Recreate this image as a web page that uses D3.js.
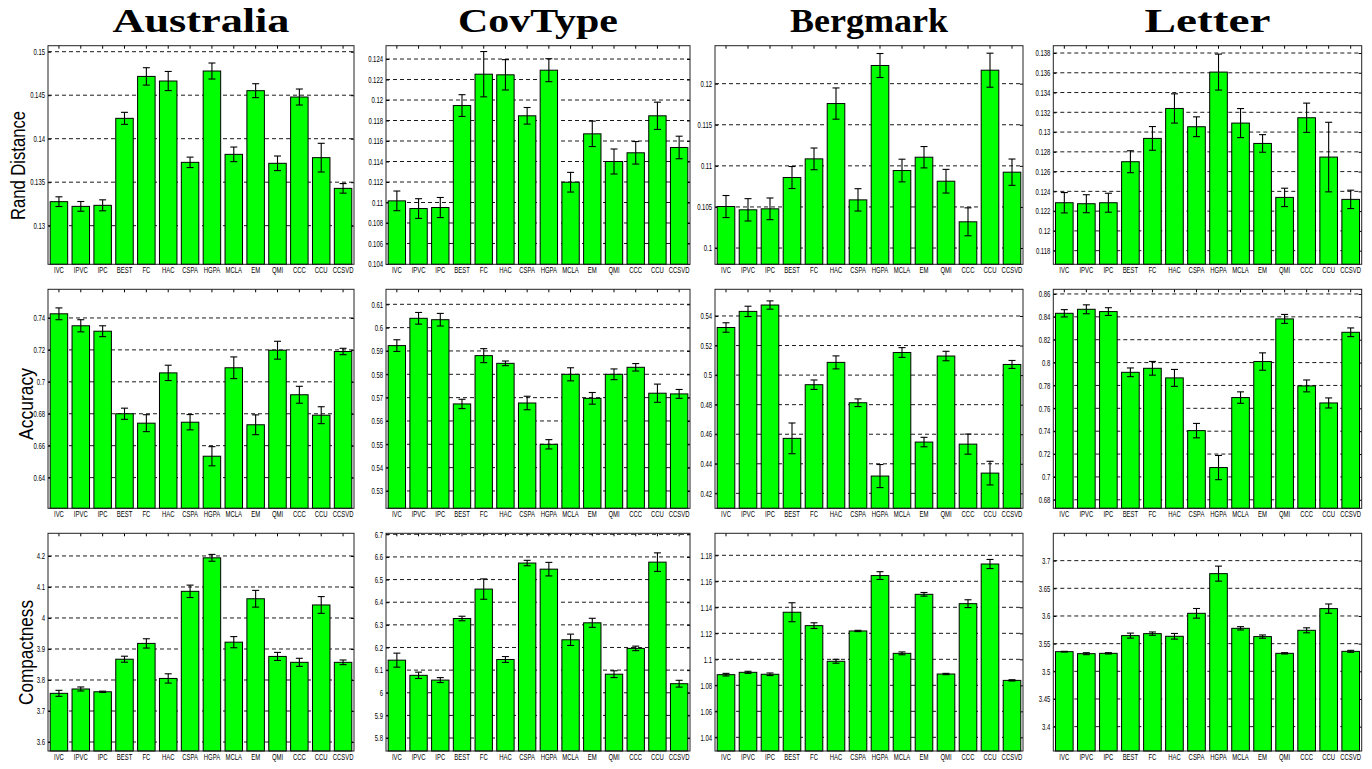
<!DOCTYPE html>
<html>
<head>
<meta charset="utf-8">
<script src="https://cdn.jsdelivr.net/npm/d3@7"></script>
<style>
  body { margin: 0; background: #fff; }
  svg text { font-family: "Liberation Sans", Arial, sans-serif; }
</style>
</head>
<body>
<svg id="chart" width="1372" height="769"></svg>
<script>
// Clustering methods (x categories), datasets (columns) and measures (rows)
const methods = ["IVC","IPVC","IPC","BEST","FC","HAC","CSPA","HGPA","MCLA","EM","QMI","CCC","CCU","CCSVD"];
const datasets = ["Australia","CovType","Bergmark","Letter"];
const measures = ["Rand Distance","Accuracy","Compactness"];

// Rand distance: means and error-bar half lengths
const randAustralia    = [0.13276,0.13222,0.13234,0.14234,0.14716,0.14663,0.13728,0.14778,0.13820,0.14552,0.13717,0.14479,0.13782,0.13429];
const randAustraliaErr = [0.00056,0.00056,0.00063,0.00069,0.00100,0.00110,0.00060,0.00092,0.00084,0.00080,0.00084,0.00092,0.00165,0.00055];
const randCovType      = [0.11016,0.10941,0.10951,0.11946,0.12252,0.12246,0.11846,0.12291,0.11198,0.11670,0.11400,0.11485,0.11846,0.11537];
const randCovTypeErr   = [0.00096,0.00096,0.00098,0.00106,0.00221,0.00148,0.00081,0.00112,0.00096,0.00124,0.00122,0.00110,0.00133,0.00110];
const randBergmark     = [0.10505,0.10465,0.10477,0.10858,0.11085,0.11758,0.10586,0.12221,0.10943,0.11105,0.10813,0.10319,0.12164,0.10923];
const randBergmarkErr  = [0.00134,0.00136,0.00132,0.00134,0.00132,0.00190,0.00136,0.00146,0.00138,0.00130,0.00144,0.00170,0.00207,0.00160];
const randLetter       = [0.12285,0.12275,0.12285,0.12700,0.12936,0.13239,0.13054,0.13607,0.13091,0.12885,0.12339,0.13145,0.12747,0.12319];
const randLetterErr    = [0.00103,0.00091,0.00096,0.00111,0.00120,0.00148,0.00100,0.00182,0.00147,0.00089,0.00093,0.00148,0.00352,0.00093];

// Accuracy
const accAustralia     = [0.7426,0.7351,0.7317,0.6800,0.6741,0.7056,0.6747,0.6534,0.7088,0.6731,0.7198,0.6919,0.6791,0.7190];
const accAustraliaErr  = [0.0037,0.0038,0.0034,0.0035,0.0053,0.0048,0.0048,0.0060,0.0068,0.0062,0.0056,0.0053,0.0053,0.0020];
const accCovType       = [0.5923,0.6040,0.6034,0.5673,0.5880,0.5847,0.5677,0.5500,0.5800,0.5697,0.5800,0.5830,0.5719,0.5716];
const accCovTypeErr    = [0.0025,0.0025,0.0027,0.0020,0.0030,0.0010,0.0029,0.0020,0.0028,0.0025,0.0023,0.0016,0.0039,0.0019];
const accBergmark      = [0.5322,0.5431,0.5474,0.4572,0.4935,0.5086,0.4813,0.4317,0.5153,0.4547,0.5129,0.4533,0.4337,0.5072];
const accBergmarkErr   = [0.0032,0.0035,0.0028,0.0104,0.0032,0.0044,0.0026,0.0078,0.0033,0.0032,0.0032,0.0068,0.0080,0.0027];
const accLetter        = [0.8431,0.8466,0.8446,0.7915,0.7950,0.7866,0.7405,0.7082,0.7694,0.8009,0.8382,0.7796,0.7647,0.8265];
const accLetterErr     = [0.0032,0.0039,0.0034,0.0038,0.0060,0.0074,0.0063,0.0106,0.0050,0.0076,0.0039,0.0052,0.0044,0.0038];

// Compactness
const compAustralia    = [3.757,3.771,3.762,3.867,3.918,3.805,4.086,4.194,3.922,4.062,3.876,3.857,4.042,3.857];
const compAustraliaErr = [0.0097,0.0065,0.002,0.0097,0.015,0.015,0.020,0.011,0.018,0.027,0.013,0.013,0.027,0.0075];
const compCovType      = [6.144,6.077,6.056,6.328,6.458,6.147,6.573,6.546,6.234,6.309,6.082,6.196,6.577,6.040];
const compCovTypeErr   = [0.031,0.014,0.011,0.010,0.045,0.013,0.012,0.030,0.025,0.020,0.015,0.010,0.041,0.015];
const compBergmark     = [1.0882,1.0900,1.0885,1.1362,1.1259,1.0985,1.1218,1.1644,1.1046,1.1500,1.0887,1.1428,1.1733,1.0838];
const compBergmarkErr  = [0.0010,0.0008,0.0010,0.0073,0.0022,0.0015,0.0005,0.0030,0.0011,0.0014,0.0005,0.0030,0.0035,0.0005];
const compLetter       = [3.5355,3.5319,3.5325,3.5645,3.5681,3.5633,3.6048,3.6765,3.5777,3.5627,3.5325,3.5741,3.6133,3.5361];
const compLetterErr    = [0.0006,0.0018,0.0012,0.0045,0.0030,0.0051,0.0087,0.0136,0.0030,0.0030,0.0012,0.0045,0.0084,0.0018];

// Y-axis limits of every panel (row-major: measure, dataset)
const yLimits = [
  [0.12556, 0.15069], [0.10397, 0.12530], [0.09802, 0.12462], [0.11662, 0.13874],
  [0.62078, 0.75795], [0.52257, 0.61643], [0.40989, 0.55804], [0.67257, 0.86408],
  [3.5710, 4.2731],   [5.7427, 6.7044],   [1.02949, 1.19692], [3.3560, 3.7494]
];

// Y tick values of every panel
const yTicks = [
  [0.13,0.135,0.14,0.145,0.15],
  [0.104,0.106,0.108,0.11,0.112,0.114,0.116,0.118,0.12,0.122,0.124],
  [0.1,0.105,0.11,0.115,0.12],
  [0.118,0.12,0.122,0.124,0.126,0.128,0.13,0.132,0.134,0.136,0.138],
  [0.64,0.66,0.68,0.7,0.72,0.74],
  [0.53,0.54,0.55,0.56,0.57,0.58,0.59,0.6,0.61],
  [0.42,0.44,0.46,0.48,0.5,0.52,0.54],
  [0.68,0.7,0.72,0.74,0.76,0.78,0.8,0.82,0.84,0.86],
  [3.6,3.7,3.8,3.9,4,4.1,4.2],
  [5.8,5.9,6,6.1,6.2,6.3,6.4,6.5,6.6,6.7],
  [1.04,1.06,1.08,1.1,1.12,1.14,1.16,1.18],
  [3.4,3.45,3.5,3.55,3.6,3.65,3.7]
];

const means = [
  [randAustralia, randCovType, randBergmark, randLetter],
  [accAustralia, accCovType, accBergmark, accLetter],
  [compAustralia, compCovType, compBergmark, compLetter]
];
const errs = [
  [randAustraliaErr, randCovTypeErr, randBergmarkErr, randLetterErr],
  [accAustraliaErr, accCovTypeErr, accBergmarkErr, accLetterErr],
  [compAustraliaErr, compCovTypeErr, compBergmarkErr, compLetterErr]
];

// Layout of the 4 x 3 grid of axes
const colLeft  = [48, 386, 715, 1053.3];
const colRight = [354, 690, 1023, 1361.7];
const rowTop    = [45.7, 289.3, 533.3];
const rowBottom = [264.3, 508.3, 751];
const titleWidth = [177, 160, 158, 126];
const ylabelX = [25, 33, 33];
const ylabelY = [165.5, 404, 652.5];
const ylabelLen = [109, 72, 105];

const svg = d3.select("#chart");
const fmt = v => String(+v.toFixed(4));
const squeeze = 0.7;

// Dataset titles
datasets.forEach((name, c) => {
  svg.append("text")
    .attr("x", (colLeft[c] + colRight[c]) / 2)
    .attr("y", 32)
    .attr("text-anchor", "middle")
    .style("font-family", '"Liberation Serif", "Times New Roman", serif')
    .style("font-weight", "bold")
    .style("font-size", "34px")
    .attr("textLength", titleWidth[c])
    .attr("lengthAdjust", "spacingAndGlyphs")
    .text(name);
});

// Measure labels on the left
measures.forEach((name, r) => {
  svg.append("text")
    .attr("transform", `translate(${ylabelX[r]},${ylabelY[r]}) rotate(-90)`)
    .attr("text-anchor", "middle")
    .style("font-size", "20px")
    .attr("textLength", ylabelLen[r])
    .attr("lengthAdjust", "spacingAndGlyphs")
    .text(name);
});

for (let r = 0; r < 3; r++) {
  for (let c = 0; c < 4; c++) {
    const idx = r * 4 + c;
    const w = colRight[c] - colLeft[c];
    const h = rowBottom[r] - rowTop[r];
    const rows = methods.map((m, i) => ({ m, v: means[r][c][i], e: errs[r][c][i] }));

    const x = d3.scaleBand().domain(methods).range([0, w]).paddingInner(0.2).paddingOuter(0.1);
    const y = d3.scaleLinear().domain(yLimits[idx]).range([h, 0]);

    const g = svg.append("g").attr("transform", `translate(${colLeft[c]},${rowTop[r]})`);

    // dashed grid
    g.append("g").selectAll("line")
      .data(yTicks[idx].filter(t => y(t) > 0.5 && y(t) < h - 0.5))
      .join("line")
      .attr("x1", 0).attr("x2", w)
      .attr("y1", d => y(d)).attr("y2", d => y(d))
      .attr("stroke", "#000").attr("stroke-width", 0.9)
      .attr("stroke-dasharray", "4,3");

    // tick marks pointing inward on all four sides
    const left = g.append("g").call(d3.axisLeft(y).tickValues(yTicks[idx]).tickSizeInner(-3).tickSizeOuter(0).tickPadding(3).tickFormat(fmt));
    const right = g.append("g").attr("transform", `translate(${w},0)`)
      .call(d3.axisRight(y).tickValues(yTicks[idx]).tickSizeInner(-3).tickSizeOuter(0).tickFormat(""));
    const top = g.append("g").call(d3.axisTop(x).tickSizeInner(-3).tickSizeOuter(0).tickFormat(""));
    const bottom = g.append("g").attr("transform", `translate(0,${h})`)
      .call(d3.axisBottom(x).tickSize(0).tickPadding(3));
    [left, right, top, bottom].forEach(a => {
      a.select(".domain").remove();
      a.selectAll("line").attr("stroke", "#000");
    });
    left.selectAll("text")
      .style("font-size", "8.5px").attr("fill", "#000")
      .attr("x", -3 / squeeze)
      .attr("transform", `scale(${squeeze},1)`);
    bottom.selectAll("text")
      .style("font-size", "8.5px").attr("fill", "#000")
      .attr("transform", `scale(${squeeze},1)`);

    // bars
    g.append("g").selectAll("rect")
      .data(rows)
      .join("rect")
      .attr("x", d => x(d.m))
      .attr("width", x.bandwidth())
      .attr("y", d => y(d.v))
      .attr("height", d => h - y(d.v))
      .attr("fill", "#00ff00")
      .attr("stroke", "#000")
      .attr("stroke-width", 1);

    // error bars
    const eb = g.append("g").attr("stroke", "#000").attr("stroke-width", 1.1);
    rows.forEach(d => {
      const cx = x(d.m) + x.bandwidth() / 2;
      eb.append("line").attr("x1", cx).attr("x2", cx).attr("y1", y(d.v - d.e)).attr("y2", y(d.v + d.e));
      eb.append("line").attr("x1", cx - 3.5).attr("x2", cx + 3.5).attr("y1", y(d.v - d.e)).attr("y2", y(d.v - d.e));
      eb.append("line").attr("x1", cx - 3.5).attr("x2", cx + 3.5).attr("y1", y(d.v + d.e)).attr("y2", y(d.v + d.e));
    });

    // axes box
    g.append("rect")
      .attr("width", w).attr("height", h)
      .attr("fill", "none").attr("stroke", "#222").attr("stroke-width", 1);
  }
}
</script>
</body>
</html>
